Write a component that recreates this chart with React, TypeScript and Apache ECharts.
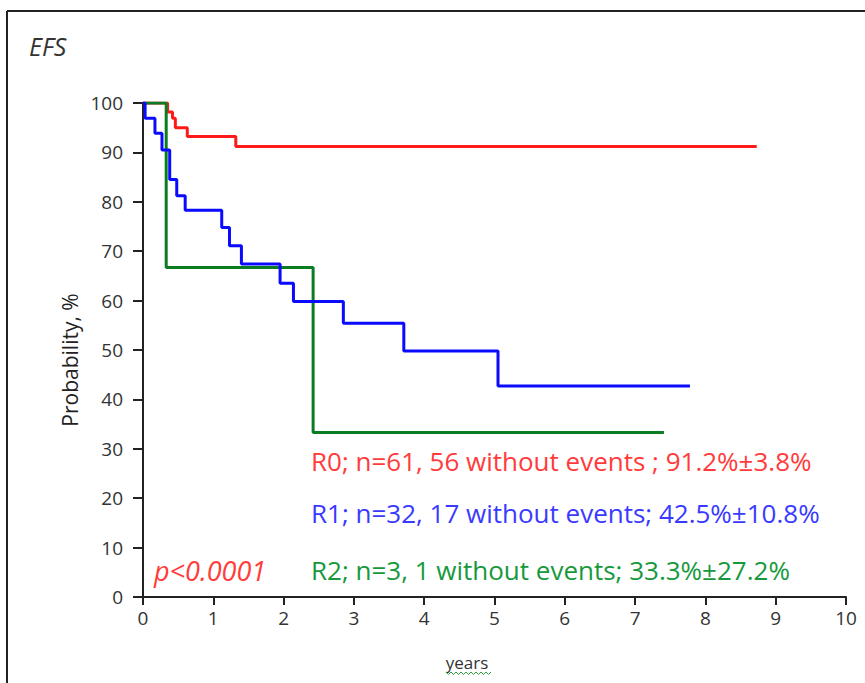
import React, { useEffect, useRef } from "react";
import * as echarts from "echarts";

const xTicks = [0, 1, 2, 3, 4, 5, 6, 7, 8, 9, 10];
const yTicks = [0, 10, 20, 30, 40, 50, 60, 70, 80, 90, 100];

const r0Times = [0, 0.35, 0.42, 0.46, 0.63, 1.32, 8.73];
const r0Surv = [100, 98.2, 96.9, 95.0, 93.2, 91.2, 91.2];

const r1Times = [0, 0.03, 0.17, 0.27, 0.38, 0.48, 0.6, 1.12, 1.23, 1.4, 1.95, 2.14, 2.85, 3.71, 5.05, 7.78];
const r1Surv = [100, 96.9, 93.9, 90.5, 84.5, 81.2, 78.3, 74.8, 71.1, 67.4, 63.5, 59.8, 55.4, 49.8, 42.7, 42.7];

const r2Times = [0, 0.33, 2.42, 7.41];
const r2Surv = [100, 66.7, 33.3, 33.3];

const legendTexts = [
  "R0; n=61, 56 without events ; 91.2%±3.8%",
  "R1; n=32, 17 without events; 42.5%±10.8%",
  "R2; n=3, 1 without events; 33.3%±27.2%",
];
const pValueText = "p<0.0001";
const titleText = "EFS";
const xAxisName = "years";
const yAxisName = "Probability, %";

const FONT = "'Open Sans', sans-serif";

function pairs(t: number[], s: number[]) {
  return t.map((v, i) => [v, s[i]]);
}

export default function App() {
  const ref = useRef<HTMLDivElement>(null);
  useEffect(() => {
    if (!ref.current) return;
    const chart = echarts.init(ref.current, undefined, { renderer: "svg" });
    const lineSeries = (name: string, data: number[][], color: string) => ({
      name,
      type: "line",
      step: "end",
      data,
      symbol: "none",
      lineStyle: { color, width: 3 },
      z: 3,
    });
    const wave: number[][] = [];
    for (let i = 0; i <= 18; i++) wave.push([446 + i * 2.5, i % 2 === 0 ? 672 : 674.5]);
    chart.setOption({
      animation: false,
      backgroundColor: "#ffffff",
      grid: { left: 143, right: 19, top: 103, bottom: 86 },
      xAxis: {
        type: "value",
        min: 0,
        max: 10,
        interval: 1,
        axisLine: { show: true, lineStyle: { color: "#222", width: 2 } },
        axisTick: { show: true, length: 8, lineStyle: { color: "#222", width: 2 } },
        axisLabel: {
          color: "#333",
          fontSize: 19,
          fontFamily: FONT,
          margin: 11,
          formatter: (v: number) => (xTicks.includes(v) ? String(v) : ""),
        },
        splitLine: { show: false },
      },
      yAxis: {
        type: "value",
        min: 0,
        max: 100,
        interval: 10,
        axisLine: { show: true, lineStyle: { color: "#222", width: 2 } },
        axisTick: { show: true, length: 10, lineStyle: { color: "#222", width: 2 } },
        axisLabel: {
          color: "#333",
          fontSize: 19,
          fontFamily: FONT,
          margin: 20,
          formatter: (v: number) => (yTicks.includes(v) ? String(v) : ""),
        },
        splitLine: { show: false },
      },
      series: [
        lineSeries("R0", pairs(r0Times, r0Surv), "#ff1a1a"),
        lineSeries("R2", pairs(r2Times, r2Surv), "#0a7d22"),
        lineSeries("R1", pairs(r1Times, r1Surv), "#0a0aff"),
      ],
      graphic: [
        {
          type: "line",
          shape: { x1: 7, y1: 11, x2: 865, y2: 11 },
          style: { stroke: "#222", lineWidth: 2 },
        },
        {
          type: "line",
          shape: { x1: 7, y1: 11, x2: 7, y2: 683 },
          style: { stroke: "#222", lineWidth: 2 },
        },
        {
          type: "text",
          x: 29,
          y: 46,
          style: {
            text: titleText,
            font: `italic 25px ${FONT}`,
            fill: "#333",
            verticalAlign: "middle",
          },
        },
        {
          type: "text",
          x: 70,
          y: 360,
          rotation: Math.PI / 2,
          style: {
            text: yAxisName,
            font: `21px ${FONT}`,
            fill: "#222",
            align: "center",
            verticalAlign: "middle",
          },
        },
        {
          type: "text",
          x: 467,
          y: 662,
          style: {
            text: xAxisName,
            font: `17px ${FONT}`,
            fill: "#333",
            align: "center",
            verticalAlign: "middle",
          },
        },
        {
          type: "polyline",
          shape: { points: wave },
          style: { stroke: "#2e9e3e", lineWidth: 1, fill: "none" },
        },
        {
          type: "text",
          x: 311,
          y: 461,
          style: { text: legendTexts[0], font: `26px ${FONT}`, fill: "#ff3b3b", verticalAlign: "middle" },
        },
        {
          type: "text",
          x: 311,
          y: 513,
          style: { text: legendTexts[1], font: `26px ${FONT}`, fill: "#3a3aff", verticalAlign: "middle" },
        },
        {
          type: "text",
          x: 311,
          y: 570,
          style: { text: legendTexts[2], font: `26px ${FONT}`, fill: "#16993c", verticalAlign: "middle" },
        },
        {
          type: "text",
          x: 154,
          y: 570,
          style: { text: pValueText, font: `italic 27px ${FONT}`, fill: "#ff3b3b", verticalAlign: "middle" },
        },
      ],
    });
    return () => chart.dispose();
  }, []);
  return <div ref={ref} style={{ width: 865, height: 683, position: "absolute", left: 0, top: 0 }} />;
}
